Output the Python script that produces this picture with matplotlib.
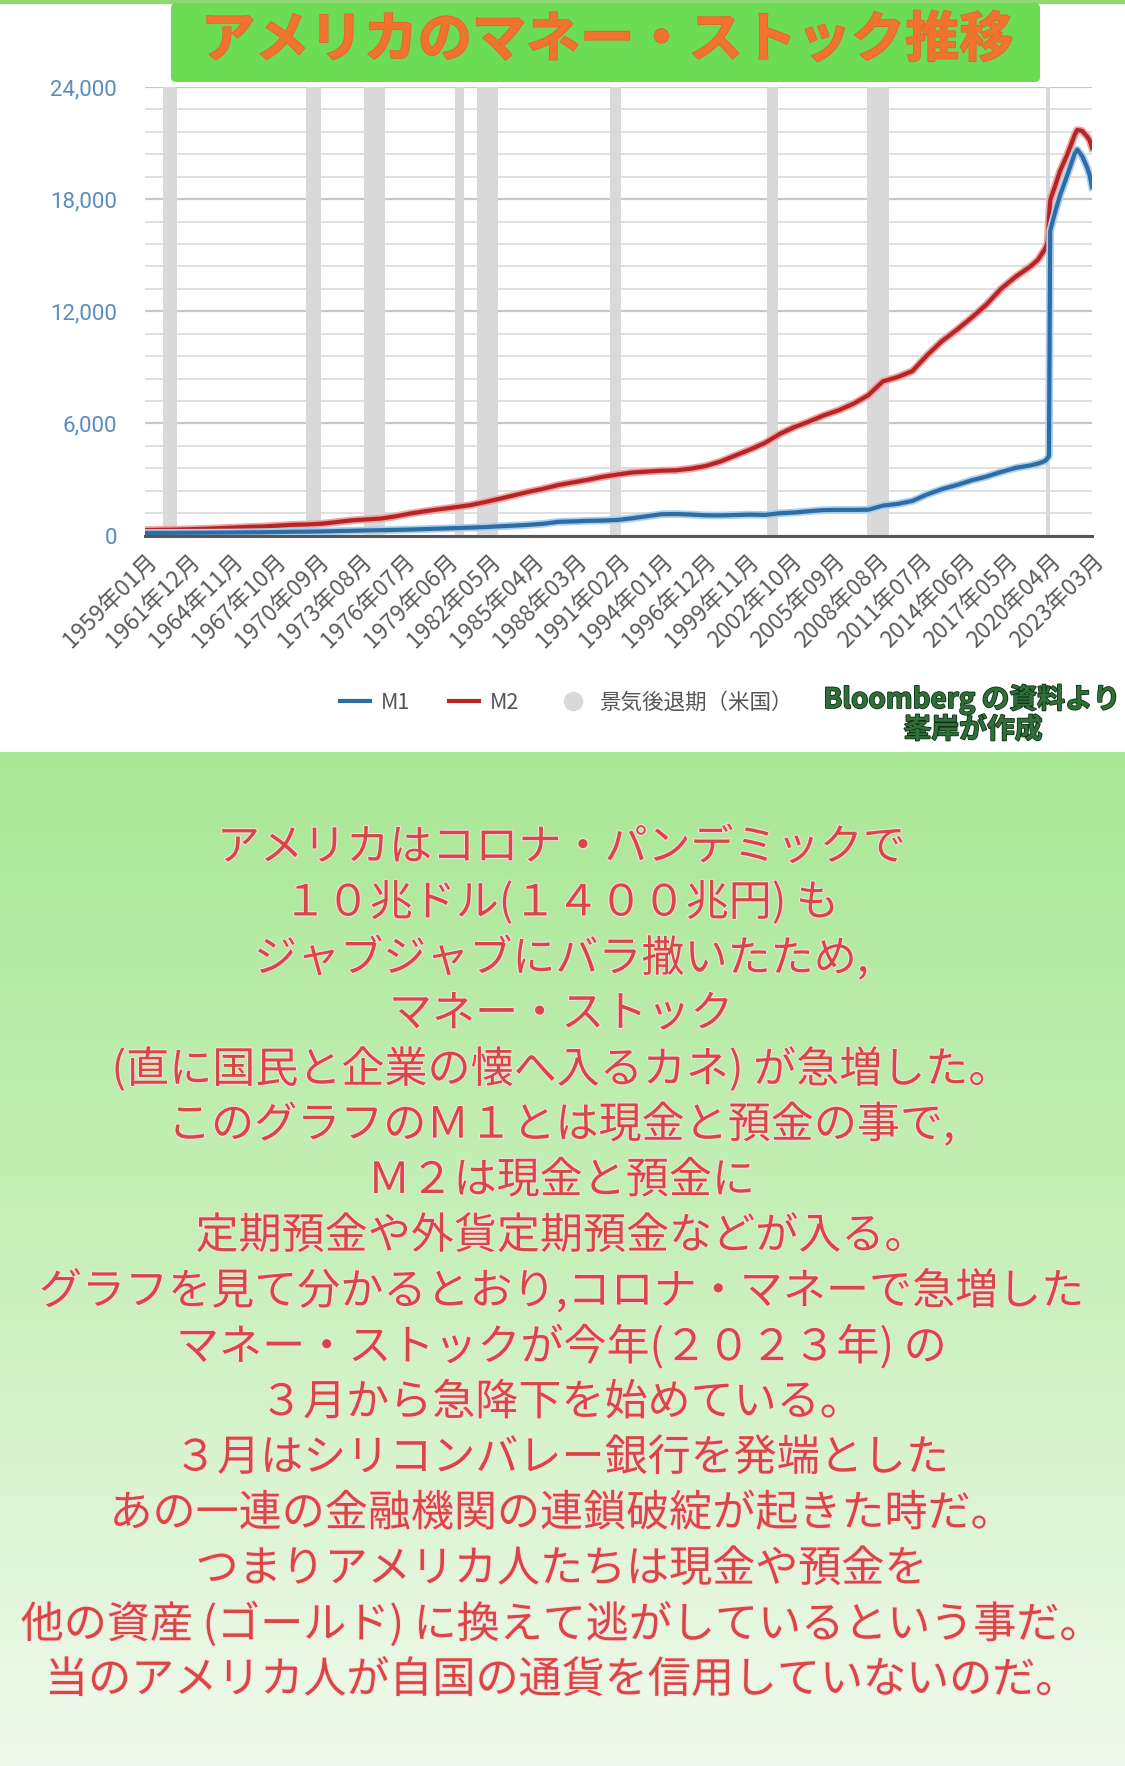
import numpy as np
import matplotlib
matplotlib.use("Agg")
import matplotlib.pyplot as plt
from matplotlib.lines import Line2D
from matplotlib.patches import FancyBboxPatch, Rectangle
import matplotlib.patheffects as pe

plt.rcParams['font.family'] = ['Noto Sans CJK JP', 'DejaVu Sans']

# ---------------- data ----------------
title = "アメリカのマネー・ストック推移"

dates = ["1959-01", "1960-01", "1961-01", "1962-01", "1963-01", "1964-01", "1965-01",
         "1966-01", "1967-01", "1968-01", "1969-01", "1970-01", "1971-01", "1972-01",
         "1973-01", "1974-01", "1975-01", "1976-01", "1977-01", "1978-01", "1979-01",
         "1980-01", "1981-01", "1982-01", "1983-01", "1984-01", "1985-01", "1986-01",
         "1987-01", "1988-01", "1989-01", "1990-01", "1991-01", "1992-01", "1993-01",
         "1994-01", "1995-01", "1996-01", "1997-01", "1998-01", "1999-01", "2000-01",
         "2001-01", "2002-01", "2003-01", "2004-01", "2005-01", "2006-01", "2007-01",
         "2008-01", "2009-01", "2010-01", "2011-01", "2012-01", "2013-01", "2014-01",
         "2015-01", "2016-01", "2017-01", "2018-01", "2019-01", "2019-07", "2020-01",
         "2020-03", "2020-04", "2020-05", "2020-09", "2021-01", "2021-07", "2022-01",
         "2022-03", "2022-07", "2022-11", "2023-01", "2023-03"]

m1 = [140, 141, 143, 147, 150, 156, 163,
      171, 175, 187, 200, 207, 218, 235,
      253, 272, 285, 300, 320, 345, 370,
      395, 420, 450, 490, 530, 570, 630,
      730, 755, 785, 800, 830, 920, 1030,
      1140, 1150, 1120, 1080, 1075, 1095, 1120,
      1100, 1190, 1230, 1300, 1360, 1370, 1370,
      1380, 1600, 1690, 1850, 2200, 2480, 2700,
      2950, 3150, 3400, 3620, 3750, 3850, 3990,
      4150, 4250, 16300, 17300, 18200, 19300, 20450,
      20650, 20300, 19700, 19300, 18650]

m2 = [290, 300, 315, 335, 362, 392, 424,
      459, 482, 527, 573, 592, 633, 720,
      810, 860, 910, 1030, 1180, 1300, 1410,
      1510, 1620, 1780, 1960, 2150, 2340, 2500,
      2700, 2840, 2980, 3140, 3260, 3370, 3420,
      3470, 3490, 3580, 3720, 3960, 4280, 4600,
      4950, 5430, 5800, 6100, 6430, 6700, 7050,
      7500, 8250, 8480, 8800, 9650, 10400, 11000,
      11650, 12350, 13200, 13850, 14400, 14750, 15350,
      15700, 17000, 17950, 18700, 19500, 20400, 21450,
      21700, 21650, 21350, 21150, 20750]

rec_start = ["1960-04", "1969-12", "1973-11", "1980-01", "1981-07", "1990-07",
             "2001-03", "2007-12", "2020-02"]
rec_end = ["1961-03", "1970-12", "1975-04", "1980-08", "1982-12", "1991-04",
           "2001-12", "2009-06", "2020-05"]

tick_labels = ["1959年01月", "1961年12月", "1964年11月", "1967年10月", "1970年09月",
               "1973年08月", "1976年07月", "1979年06月", "1982年05月", "1985年04月",
               "1988年03月", "1991年02月", "1994年01月", "1996年12月", "1999年11月",
               "2002年10月", "2005年09月", "2008年08月", "2011年07月", "2014年06月",
               "2017年05月", "2020年04月", "2023年03月"]

y_major = [0, 6000, 12000, 18000, 24000]
y_major_labels = ["0", "6,000", "12,000", "18,000", "24,000"]
y_minor_step = 1200

legend_labels = ["M1", "M2", "景気後退期（米国）"]
source_lines = ["Bloomberg の資料より", "峯岸が作成"]

body_lines = [
    "アメリカはコロナ・パンデミックで",
    "１０兆ドル(１４００兆円) も",
    "ジャブジャブにバラ撒いたため,",
    "マネー・ストック",
    "(直に国民と企業の懐へ入るカネ) が急増した。",
    "このグラフのＭ１とは現金と預金の事で,",
    "Ｍ２は現金と預金に",
    "定期預金や外貨定期預金などが入る。",
    "グラフを見て分かるとおり,コロナ・マネーで急増した",
    "マネー・ストックが今年(２０２３年) の",
    "３月から急降下を始めている。",
    "３月はシリコンバレー銀行を発端とした",
    "あの一連の金融機関の連鎖破綻が起きた時だ。",
    "つまりアメリカ人たちは現金や預金を",
    "他の資産 (ゴールド) に換えて逃がしているという事だ。",
    "当のアメリカ人が自国の通貨を信用していないのだ。",
]


def month_index(s):
    s = s.replace("年", "-").replace("月", "")
    y, m = s.split("-")
    return (int(y) - 1959) * 12 + int(m) - 1


x = [month_index(d) for d in dates]
tick_pos = [month_index(t) for t in tick_labels]

# ---------------- figure ----------------
W, H = 1125, 1766
fig = plt.figure(figsize=(W / 100, H / 100), dpi=100)
fig.patch.set_facecolor("white")

bg = fig.add_axes([0, 0, 1, 1], zorder=0)
bg.set_xlim(0, W)
bg.set_ylim(H, 0)
bg.axis("off")

# gradient lower panel
grad_top = 752
ys = np.linspace(0, 1, 400)
stops = [0.0, 0.5, 1.0]
cols = np.array([[0xa9, 0xe7, 0x95], [0xc8, 0xf0, 0xba], [0xf1, 0xfa, 0xee]]) / 255.0
img = np.stack([np.interp(ys, stops, cols[:, k]) for k in range(3)], axis=1)[:, None, :]
bg.imshow(img, extent=(0, W, H, grad_top), aspect="auto", interpolation="bilinear", zorder=0)

# thin green top line
bg.add_patch(Rectangle((0, 0), W, 3, color="#8fd970", zorder=1))

# title box
bg.add_patch(FancyBboxPatch((171, 3), 869, 79, boxstyle="round,pad=0,rounding_size=5",
                            fc="#6ddc55", ec="none", zorder=1))
bg.text(607, 41, title, ha="center", va="center", fontsize=39, fontweight="bold",
        color="#f0742e", zorder=2,
        path_effects=[pe.withStroke(linewidth=1.2, foreground="#e2652a")])

# source text
for (txt, yy, xx) in zip(source_lines, [699, 730], [972, 973]):
    bg.text(xx, yy, txt, ha="center", va="center", fontsize=20, fontweight="bold",
            color="#2f7039", zorder=2,
            path_effects=[pe.withStroke(linewidth=1.2, foreground="#0e2e14")])

# body text
for i, line in enumerate(body_lines):
    bg.text(561, 848 + i * 55.5, line, ha="center", va="center", fontsize=31,
            color="#d94646", zorder=2,
            path_effects=[pe.withStroke(linewidth=1.5, foreground="#f9e0df")])

# ---------------- chart ----------------
ax = fig.add_axes([145 / W, 1 - 535.5 / H, 947 / W, 448.5 / H], zorder=2)
ax.set_facecolor("white")
ax.set_xlim(0, 770)
ax.set_ylim(0, 24000)

for s, e in zip(rec_start, rec_end):
    ax.axvspan(month_index(s), month_index(e), color="#d9d9d9", lw=0, zorder=1.5)

m1_color, m2_color = "#2e6ca4", "#b52525"
ax.plot(x, m2, color=m2_color, lw=3, zorder=3, solid_joinstyle="round",
        path_effects=[pe.Stroke(linewidth=5.5, foreground="#f2a3a3"), pe.Normal()])
ax.plot(x, m1, color=m1_color, lw=3, zorder=3.1, solid_joinstyle="round",
        path_effects=[pe.Stroke(linewidth=5.5, foreground="#a9d0f0"), pe.Normal()])

ax.set_yticks(y_major)
ax.set_yticklabels(y_major_labels)
ax.set_yticks(np.arange(0, 24001, y_minor_step), minor=True)
ax.set_axisbelow(True)
ax.grid(which="major", axis="y", color="#c6c6c6", lw=1.6, zorder=0.5)
ax.grid(which="minor", axis="y", color="#e0e0e0", lw=1.4, zorder=0.5)
ax.tick_params(axis="y", which="both", length=0, pad=20, labelsize=16,
               labelcolor="#5a8cc0")
for lab in ax.get_yticklabels():
    lab.set_family(["Roboto", "DejaVu Sans"])

ax.set_xticks(tick_pos)
ax.set_xticklabels(tick_labels, rotation=45, ha="right", va="top",
                   rotation_mode="anchor")
ax.tick_params(axis="x", length=0, pad=10, labelsize=16.5, labelcolor="#5c5c5c")

for sp in ["left", "right", "top"]:
    ax.spines[sp].set_visible(False)
ax.spines["bottom"].set_color("#555555")
ax.spines["bottom"].set_linewidth(2.2)
ax.spines["bottom"].set_zorder(4)

handles = [Line2D([0], [0], color=m1_color, lw=3),
           Line2D([0], [0], color=m2_color, lw=3),
           Line2D([0], [0], color="none", marker="o", markersize=14,
                  markerfacecolor="#d9d9d9", markeredgecolor="none")]
leg = fig.legend(handles, legend_labels, loc="center",
                 bbox_to_anchor=(566 / W, 1 - 703 / H), ncol=3, frameon=False,
                 fontsize=15.5, handlelength=1.4, handletextpad=0.5,
                 columnspacing=1.8, labelcolor="#555555")

fig.savefig("out.png", dpi=100)
